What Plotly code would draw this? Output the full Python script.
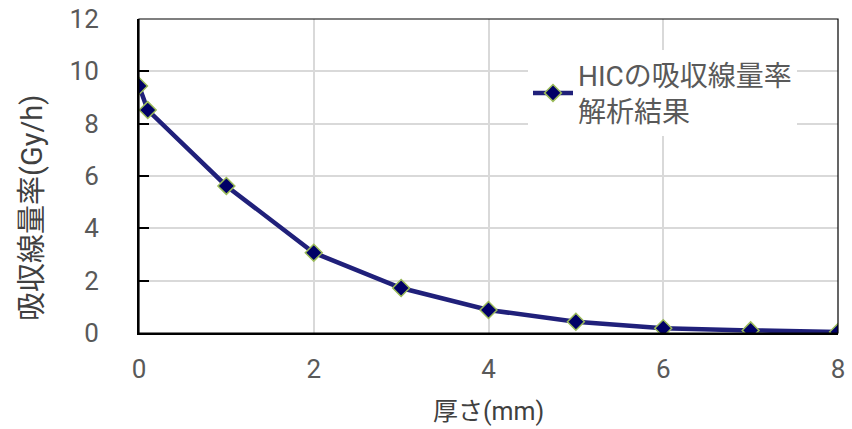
import plotly.graph_objects as go

thickness_mm = [0, 0.1, 1, 2, 3, 4, 5, 6, 7, 8]
dose_rate = [9.44, 8.52, 5.62, 3.07, 1.72, 0.88, 0.43, 0.18, 0.10, 0.04]
series_name = "HICの吸収線量率<br>解析結果"
x_title = "厚さ(mm)"
y_title = "吸収線量率(Gy/h)"
x_ticks = [0, 2, 4, 6, 8]
y_ticks = [0, 2, 4, 6, 8, 10, 12]

font_family = "Roboto, Noto Sans CJK JP, Liberation Sans, sans-serif"

L, R, T, B = 139, 14, 19, 96
W, H = 852, 429
pw, ph = W - L - R, H - T - B

fig = go.Figure()
fig.add_trace(go.Scatter(
    x=thickness_mm, y=dose_rate, mode="lines+markers", name=series_name,
    line=dict(color="#20207A", width=4.5),
    marker=dict(symbol="diamond", size=13, color="#000066",
                line=dict(color="#9BBB59", width=1.5)),
))

fig.update_layout(
    width=W, height=H,
    margin=dict(l=L, r=R, t=T, b=B, autoexpand=False),
    paper_bgcolor="white", plot_bgcolor="white",
    font=dict(family=font_family, color="#404040", size=20),
    showlegend=True,
    legend=dict(x=(528 - L) / pw, y=(H - B - 50) / ph, xanchor="left", yanchor="top",
                bgcolor="white", font=dict(size=28, color="#595959"),
                itemwidth=40, tracegroupgap=0),
    xaxis=dict(range=[0, 8], tickvals=x_ticks, showgrid=True, gridcolor="#D9D9D9",
               gridwidth=1.5, showline=True, linecolor="black", linewidth=2,
               ticks="", tickfont=dict(size=26, color="#595959"),
               ticklabelstandoff=12, automargin=False, zeroline=False),
    yaxis=dict(range=[0, 12], tickvals=y_ticks, showgrid=True, gridcolor="#D9D9D9",
               gridwidth=1.5, showline=True, linecolor="black", linewidth=2,
               ticks="inside", ticklen=10, tickcolor="black", tickwidth=1.5,
               tickfont=dict(size=26, color="#595959"),
               ticklabelstandoff=33, automargin=False, zeroline=False),
)

fig.add_annotation(text=x_title, xref="paper", yref="paper",
                   x=(488 - L) / pw, y=(H - B - 411) / ph, xanchor="center", yanchor="middle",
                   showarrow=False, font=dict(size=25, color="#404040"))
fig.add_annotation(text=y_title, xref="paper", yref="paper", textangle=-90,
                   x=(32 - L) / pw, y=(H - B - 208) / ph, xanchor="center", yanchor="middle",
                   showarrow=False, font=dict(size=29, color="#404040"))

fig.add_shape(type="rect", xref="paper", yref="paper", x0=0, y0=0, x1=1, y1=1,
              line=dict(color="black", width=1.2), fillcolor="rgba(0,0,0,0)", layer="above")

fig.write_html("out.html", config={"displayModeBar": False},
               post_script="document.body.style.margin='0';")
